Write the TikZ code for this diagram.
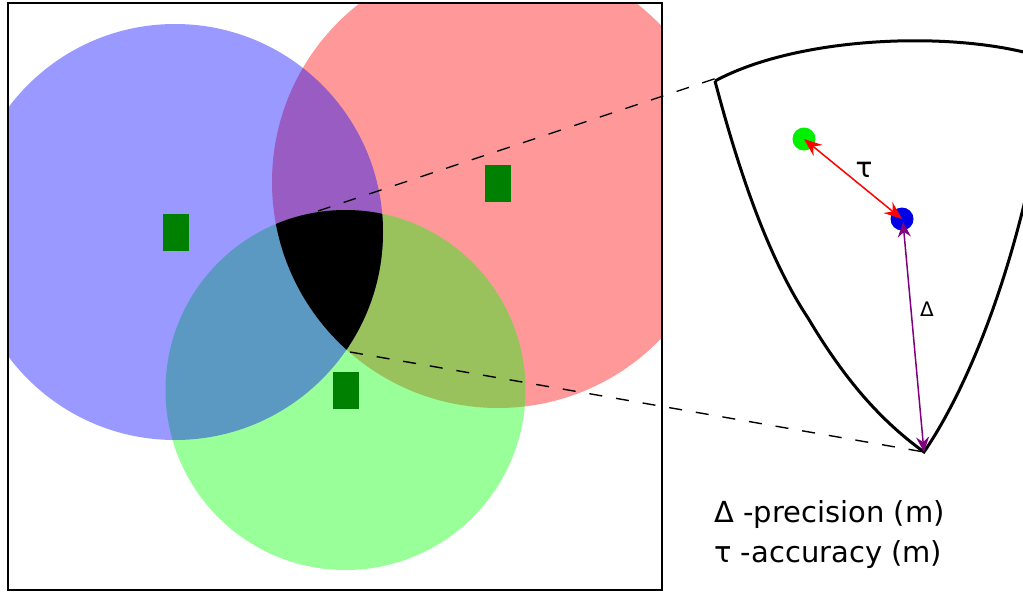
\documentclass[tikz,border=0pt]{standalone}
\usepackage{fontspec}
\setmainfont{DejaVu Sans}
\usetikzlibrary{arrows.meta}
\definecolor{rectgreen}{RGB}{0,128,0}
\definecolor{dotgreen}{RGB}{0,240,0}
\definecolor{dotblue}{RGB}{0,0,230}
\definecolor{arrpurple}{RGB}{128,0,128}
\tikzset{
  zone/.style={fill opacity=0.4},
  marker/.style={fill=rectgreen, draw=none},
  dot/.style={circle, minimum size=23pt, inner sep=0pt, draw=none},
  zoomline/.style={line width=1.4pt, dash pattern=on 13pt off 14pt},
  dblred/.style={line width=1.5pt, {Stealth[length=18pt,width=14pt,inset=6pt]}-{Stealth[length=18pt,width=14pt,inset=6pt]}},
  dblpurple/.style={line width=1.5pt, {Stealth[length=15pt,width=13pt,inset=5pt]}-{Stealth[length=15pt,width=13pt,inset=5pt]}},
  fan/.style={line width=3pt, line join=miter}
}
\begin{document}
\begin{tikzpicture}[x=1pt,y=-1pt]
\useasboundingbox (0,0) rectangle (1023,592);
\begin{scope}
  \clip (8,3) rectangle (662,590);
  \fill[red, zone] (498,182) circle[radius=226pt];
  \fill[green, zone] (345.5,390) circle[radius=180pt];
  \fill[blue, zone] (175,232) circle[radius=208pt];
  \begin{scope}
    \clip (498,182) circle[radius=226pt];
    \clip (345.5,390) circle[radius=180pt];
    \fill[black] (175,232) circle[radius=208pt];
  \end{scope}
\end{scope}
% green markers
\node[marker, minimum width=26pt, minimum height=37pt, inner sep=0pt] (m1) at (176,232.5) {};
\node[marker, minimum width=26pt, minimum height=37pt, inner sep=0pt] (m2) at (498,183.5) {};
\node[marker, minimum width=26pt, minimum height=37pt, inner sep=0pt] (m3) at (346,390.5) {};
% frame
\draw[line width=2.5pt] (8,3) rectangle (662,590);
% zoomed region
\begin{scope}
  \clip (0,0) rectangle (1023,592);
  \draw[fan] (715,81) .. controls (800,35) and (960,30) .. (1045,58);
  \draw[fan] (715,81) .. controls (745,195) and (775,268) .. (808,318)
        .. controls (845,380) and (880,420) .. (924,452)
        .. controls (965,392) and (1012,282) .. (1040,130);
\end{scope}
\coordinate (tip) at (924,452);
\coordinate (btop) at (318,211);
\coordinate (bbot) at (350,352);
\coordinate (ftop) at (735,72);
\draw[zoomline] (btop) -- (ftop);
\draw[zoomline] (bbot) -- (tip);
% dots
\node[dot, fill=dotgreen] (g) at (804,139) {};
\node[dot, fill=dotblue] (b) at (902,219) {};
\draw[dblred, red] (g.center) -- (b.center);
\draw[dblpurple, arrpurple] (903,222) -- (tip);
\node[font=\fontsize{28}{32}\selectfont] (tau) at (864,170) {τ};
\node[font=\fontsize{20}{24}\selectfont] (delta) at (927,309) {Δ};
% legend
\node[anchor=base west, inner sep=0pt, font=\fontsize{29}{34}\selectfont] (l1) at (714,522) {Δ -precision (m)};
\node[anchor=base west, inner sep=0pt, font=\fontsize{29}{34}\selectfont] (l2) at (714,562) {τ -accuracy (m)};
\end{tikzpicture}
\end{document}
